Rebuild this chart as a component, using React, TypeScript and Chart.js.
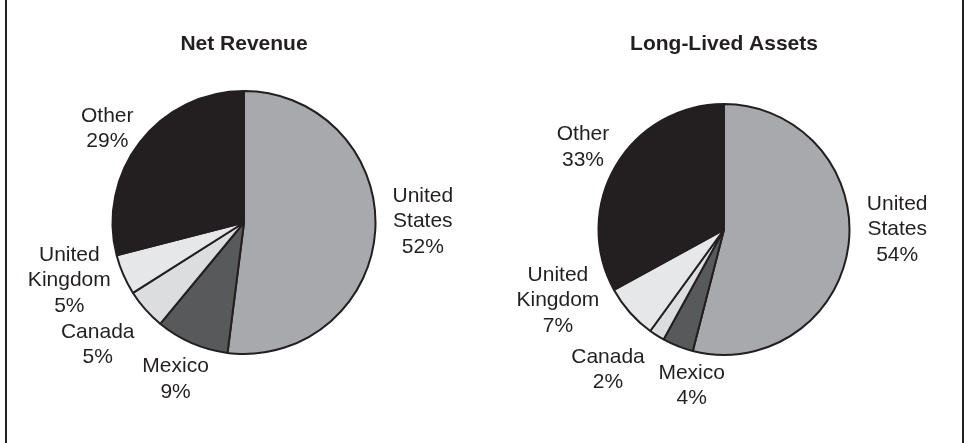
import React, { useEffect, useRef } from "react";
import { Chart, registerables } from "chart.js";

Chart.register(...registerables);

// ---- data ----
const categories = ["United States", "Mexico", "Canada", "United Kingdom", "Other"];
const netRevenue = [52, 9, 5, 5, 29];
const longLivedAssets = [54, 4, 2, 7, 33];
const titles = ["Net Revenue", "Long-Lived Assets"];

// ---- styling ----
const sliceColors = ["#a7a9ac", "#58595b", "#dcdddf", "#e6e7e8", "#231f20"];
const INK = "#231f20";
const FONT = "'Liberation Sans', Arial, Helvetica, sans-serif";

// label placement relative to each slice: radius factor and angle nudge (deg)
const leftLabelRadius = [1.36, 1.3, 1.45, 1.4, 1.26];
const leftLabelNudge = [-3.9, 0.2, 1.5, 5, -3.4];
const rightLabelRadius = [1.38, 1.27, 1.45, 1.44, 1.3];
const rightLabelNudge = [-7.2, -9.9, 7.2, 18.2, -0.4];

const makeLabelPlugin = (radius: number[], nudge: number[]) => ({
  id: "sliceLabels",
  afterDatasetsDraw(chart: any) {
    const ctx = chart.ctx;
    const meta = chart.getDatasetMeta(0);
    const values = chart.data.datasets[0].data as number[];
    ctx.save();
    ctx.font = `21px ${FONT}`;
    ctx.fillStyle = INK;
    ctx.textAlign = "center";
    ctx.textBaseline = "middle";
    meta.data.forEach((arc: any, i: number) => {
      const p = arc.getProps(["x", "y", "startAngle", "endAngle", "outerRadius"], true);
      const mid = (p.startAngle + p.endAngle) / 2 + (nudge[i] * Math.PI) / 180;
      const r = p.outerRadius * radius[i];
      const cx = p.x + Math.cos(mid) * r;
      const cy = p.y + Math.sin(mid) * r;
      const lines = [...String(chart.data.labels[i]).split(" "), `${values[i]}%`];
      const lh = 25.5;
      const top = cy - ((lines.length - 1) * lh) / 2;
      lines.forEach((t, k) => ctx.fillText(t, cx, top + k * lh));
    });
    ctx.restore();
  },
});

type PieProps = {
  title: string;
  values: number[];
  radius: number[];
  nudge: number[];
  padding: { left: number; right: number; top: number; bottom: number };
  titlePad: { top: number; bottom: number };
  style: React.CSSProperties;
};

function PieChart({ title, values, radius, nudge, padding, titlePad, style }: PieProps) {
  const ref = useRef<HTMLCanvasElement>(null);
  useEffect(() => {
    if (!ref.current) return;
    const chart = new Chart(ref.current, {
      type: "pie",
      data: {
        labels: categories,
        datasets: [
          {
            data: values,
            backgroundColor: sliceColors,
            borderColor: INK,
            borderWidth: 2,
          },
        ],
      },
      options: {
        animation: false,
        responsive: false,
        maintainAspectRatio: false,
        layout: { padding },
        plugins: {
          legend: { display: false },
          tooltip: { enabled: false },
          title: {
            display: true,
            text: title,
            color: INK,
            font: { family: FONT, size: 21, weight: "bold", lineHeight: 1.2 },
            padding: titlePad,
          },
        },
      },
      plugins: [makeLabelPlugin(radius, nudge)],
    } as any);
    return () => chart.destroy();
  }, []);
  const w = style.width as number;
  const h = style.height as number;
  return <canvas ref={ref} width={w} height={h} style={{ position: "absolute", ...style }} />;
}

export default function App() {
  return (
    <div
      style={{
        position: "fixed",
        left: 0,
        top: 0,
        width: 965,
        height: 443,
        background: "#ffffff",
        overflow: "hidden",
      }}
    >
      <div style={{ position: "absolute", left: 5, top: 0, width: 2, height: 443, background: INK }} />
      <div style={{ position: "absolute", left: 962, top: 0, width: 2, height: 443, background: INK }} />
      <PieChart
        title={titles[0]}
        values={netRevenue}
        radius={leftLabelRadius}
        nudge={leftLabelNudge}
        padding={{ left: 3, right: 0, top: 0, bottom: 88 }}
        titlePad={{ top: 31.4, bottom: 33.4 }}
        style={{ left: 0, top: 0, width: 485, height: 443 }}
      />
      <PieChart
        title={titles[1]}
        values={longLivedAssets}
        radius={rightLabelRadius}
        nudge={rightLabelNudge}
        padding={{ left: 0, right: 2, top: 0, bottom: 87 }}
        titlePad={{ top: 31.4, bottom: 46.4 }}
        style={{ left: 485, top: 0, width: 480, height: 443 }}
      />
    </div>
  );
}
